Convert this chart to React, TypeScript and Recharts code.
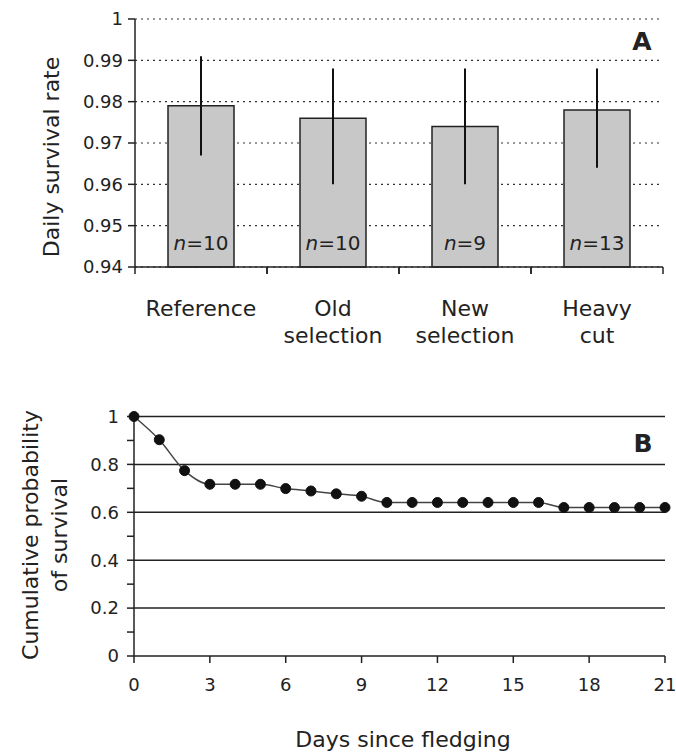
import {
  BarChart,
  Bar,
  XAxis,
  YAxis,
  CartesianGrid,
  ErrorBar,
  LabelList,
  LineChart,
  Line,
  ReferenceLine,
} from 'recharts';

// panel A: daily survival by treatment
const groups = ['Reference', 'Old selection', 'New selection', 'Heavy cut'];
const groupLines = [['Reference'], ['Old', 'selection'], ['New', 'selection'], ['Heavy', 'cut']];
const dailySurvival = [0.979, 0.976, 0.974, 0.978];
const ciLow = [0.967, 0.96, 0.96, 0.964];
const ciHigh = [0.991, 0.988, 0.988, 0.988];
const sampleSize = [10, 10, 9, 13];
const rateTicks = [0.94, 0.95, 0.96, 0.97, 0.98, 0.99, 1];

// panel B: cumulative survival after fledging
const days = [0, 1, 2, 3, 4, 5, 6, 7, 8, 9, 10, 11, 12, 13, 14, 15, 16, 17, 18, 19, 20, 21];
const cumSurvival = [
  1, 0.903, 0.774, 0.717, 0.717, 0.717, 0.699, 0.689, 0.677, 0.667, 0.641,
  0.641, 0.641, 0.641, 0.641, 0.641, 0.641, 0.62, 0.62, 0.62, 0.62, 0.62,
];
const dayTicks = [0, 3, 6, 9, 12, 15, 18, 21];
const probTicks = [0, 0.1, 0.2, 0.3, 0.4, 0.5, 0.6, 0.7, 0.8, 0.9, 1];
const probMajor = [0, 0.2, 0.4, 0.6, 0.8, 1];

const W = 676;
const INK = '#222';
const FONT = '"DejaVu Sans", sans-serif';

const barData = groups.map((g, i) => ({
  name: g,
  rate: dailySurvival[i],
  err: [dailySurvival[i] - ciLow[i], ciHigh[i] - dailySurvival[i]],
  n: sampleSize[i],
}));

const lineData = days.map((d, i) => ({ day: d, surv: cumSurvival[i] }));

const A_LEFT = 135;
const A_RIGHT = 13;
const band = (W - A_LEFT - A_RIGHT) / groups.length;

function GroupTick({ x, y, payload, index }: any) {
  const i = index ?? groups.indexOf(payload.value);
  const lines = groupLines[i] || [payload.value];
  const half = band / 2;
  return (
    <g>
      <line x1={x - half} x2={x - half} y1={y} y2={y + 7} stroke={INK} strokeWidth={1.5} />
      <line x1={x + half} x2={x + half} y1={y} y2={y + 7} stroke={INK} strokeWidth={1.5} />
      {lines.map((t, k) => (
        <text key={t} x={x} y={y + 49 + k * 27} textAnchor="middle" fontSize={22} fill={INK}>
          {t}
        </text>
      ))}
    </g>
  );
}

function NLabel({ x, y, width, height, value }: any) {
  return (
    <text x={x + width / 2} y={y + height - 17} textAnchor="middle" fontSize={20} fill={INK}>
      <tspan fontStyle="italic">n</tspan>={value}
    </text>
  );
}

function PanelA() {
  return (
    <BarChart
      width={W}
      height={360}
      data={barData}
      margin={{ top: 19, right: A_RIGHT, left: 0, bottom: 0 }}
    >
      <CartesianGrid vertical={false} stroke="#333" strokeDasharray="2 4" strokeWidth={1.2} />
      <XAxis
        dataKey="name"
        height={93}
        tickSize={0}
        tickMargin={0}
        interval={0}
        axisLine={{ stroke: INK, strokeWidth: 1.5 }}
        tick={<GroupTick />}
      />
      <YAxis
        domain={[0.94, 1]}
        ticks={rateTicks}
        interval={0}
        width={A_LEFT}
        tickSize={7}
        tickMargin={5}
        axisLine={{ stroke: INK, strokeWidth: 1.5 }}
        tickLine={{ stroke: INK, strokeWidth: 1.5 }}
        tick={{ fill: INK, fontSize: 18 }}
      />
      <YAxis
        yAxisId="frame"
        orientation="right"
        domain={[0.94, 1]}
        width={0}
        tick={false}
        tickLine={false}
        axisLine={{ stroke: INK, strokeWidth: 1.5 }}
      />
      <Bar dataKey="rate" barSize={66} fill="#c8c8c8" stroke={INK} strokeWidth={1.5} isAnimationActive={false}>
        <ErrorBar dataKey="err" width={0} stroke="#111" strokeWidth={2} />
        <LabelList dataKey="n" content={<NLabel />} />
      </Bar>
      <text
        x={51}
        y={157}
        transform="rotate(-90, 51, 157)"
        textAnchor="middle"
        dominantBaseline="central"
        fontSize={22}
        fill={INK}
      >
        Daily survival rate
      </text>
      <text x={642} y={50} textAnchor="middle" fontSize={25} fontWeight="bold" fill={INK}>
        A
      </text>
    </BarChart>
  );
}

function PanelB() {
  return (
    <LineChart
      width={W}
      height={385}
      data={lineData}
      margin={{ top: 46.5, right: 11, left: 0, bottom: 0 }}
    >
      {probMajor.slice(1).map((v) => (
        <ReferenceLine key={v} y={v} stroke={INK} strokeWidth={1.5} />
      ))}
      <XAxis
        dataKey="day"
        type="number"
        domain={[0, 21]}
        ticks={dayTicks}
        interval={0}
        height={99}
        tickSize={7}
        tickMargin={15}
        axisLine={{ stroke: INK, strokeWidth: 1.5 }}
        tickLine={{ stroke: INK, strokeWidth: 1.5 }}
        tick={{ fill: INK, fontSize: 18 }}
      />
      <YAxis
        domain={[0, 1]}
        ticks={probTicks}
        interval={0}
        width={134}
        tickSize={7}
        tickMargin={8}
        tickFormatter={(v: number) => (probMajor.includes(v) ? String(v) : '')}
        axisLine={{ stroke: INK, strokeWidth: 1.5 }}
        tickLine={{ stroke: INK, strokeWidth: 1.5 }}
        tick={{ fill: INK, fontSize: 18 }}
      />
      <YAxis
        yAxisId="frame"
        orientation="right"
        domain={[0, 1]}
        width={0}
        tick={false}
        tickLine={false}
        axisLine={{ stroke: INK, strokeWidth: 1.5 }}
      />
      <Line
        type="monotone"
        dataKey="surv"
        stroke="#444"
        strokeWidth={1.5}
        dot={{ r: 5, fill: '#111', stroke: '#111', strokeWidth: 1 }}
        isAnimationActive={false}
      />
      <text
        x={30}
        y={165}
        transform="rotate(-90, 30, 165)"
        textAnchor="middle"
        dominantBaseline="central"
        fontSize={22}
        fill={INK}
      >
        Cumulative probability
      </text>
      <text
        x={59}
        y={165}
        transform="rotate(-90, 59, 165)"
        textAnchor="middle"
        dominantBaseline="central"
        fontSize={22}
        fill={INK}
      >
        of survival
      </text>
      <text x={403} y={377} textAnchor="middle" fontSize={22} fill={INK}>
        Days since fledging
      </text>
      <text x={643} y={82} textAnchor="middle" fontSize={25} fontWeight="bold" fill={INK}>
        B
      </text>
    </LineChart>
  );
}

export default function App() {
  return (
    <div style={{ position: 'absolute', left: 0, top: 0, width: W, height: 755, background: '#fff', fontFamily: FONT }}>
      <div style={{ position: 'absolute', left: 0, top: 0 }}>
        <PanelA />
      </div>
      <div style={{ position: 'absolute', left: 0, top: 370 }}>
        <PanelB />
      </div>
    </div>
  );
}
